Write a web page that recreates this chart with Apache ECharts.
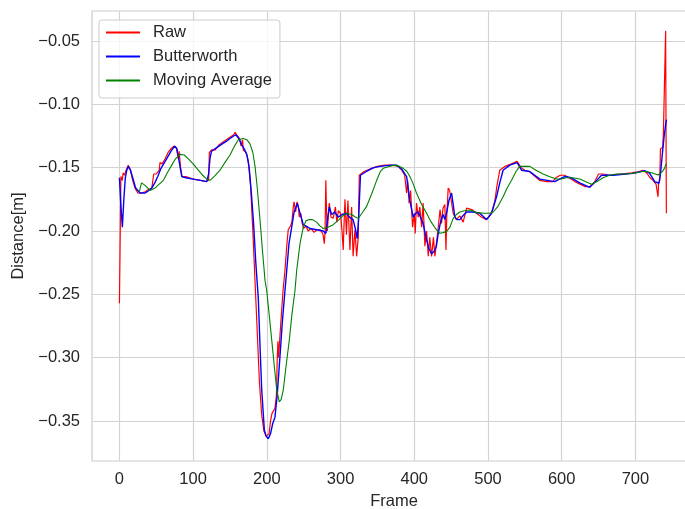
<!DOCTYPE html>
<html>
<head>
<meta charset="utf-8">
<script src="https://cdn.jsdelivr.net/npm/echarts@6/dist/echarts.min.js"></script>
<style>
  html, body { margin: 0; padding: 0; background: #fff; }
  #chart { width: 685px; height: 509px; }
</style>
</head>
<body>
<div id="chart"></div>
<script>
// values: [frame, distance]
const rawPts = [
  [0,-0.257],[2,-0.157],[4,-0.160],[5,-0.154],[7,-0.156],[9,-0.152],[12,-0.148],[15,-0.152],[18,-0.160],[21,-0.166],
  [25,-0.170],[30,-0.170],[35,-0.169],[40,-0.167],[44,-0.166],[46,-0.166],[46.5,-0.155],[50,-0.155],[54,-0.152],[55,-0.146],
  [58,-0.147],[62,-0.143],[66,-0.138],[70,-0.135],[74,-0.133],[77,-0.134],[79,-0.140],[80,-0.143],[81,-0.137],[83,-0.150],
  [85,-0.157],[90,-0.157],[100,-0.159],[110,-0.160],[118,-0.161],[121,-0.160],[122,-0.138],[125,-0.136],[130,-0.136],[135,-0.132],
  [140,-0.130],[145,-0.128],[150,-0.126],[155,-0.124],[157,-0.122],[160,-0.125],[163,-0.127],[165,-0.133],[167,-0.128],[168,-0.136],
  [172,-0.138],[175,-0.145],[178,-0.165],[181,-0.200],[184,-0.240],[187,-0.280],[190,-0.320],[193,-0.345],[196,-0.358],[199,-0.362],
  [201,-0.363],[203,-0.360],[205,-0.350],[207,-0.344],[209,-0.343],[211,-0.340],[213,-0.330],[214,-0.303],[215,-0.287],[216,-0.300],
  [217,-0.290],[219,-0.272],[222,-0.247],[224.6,-0.231],[227,-0.212],[229,-0.199],[232,-0.196],[234,-0.193],[236,-0.180],[237,-0.177],
  [239,-0.185],[241,-0.177],[243,-0.182],[244,-0.189],[246,-0.186],[248,-0.194],[250,-0.198],[253,-0.196],[256,-0.200],[260,-0.198],
  [264,-0.201],[268,-0.199],[272,-0.199],[276,-0.202],[278,-0.210],[279,-0.200],[280,-0.160],[281,-0.185],[282,-0.200],[284.7,-0.178],
  [287,-0.189],[290,-0.190],[293,-0.181],[295,-0.193],[297,-0.184],[300,-0.186],[302,-0.200],[303.6,-0.215],[305,-0.190],[306,-0.175],
  [308,-0.203],[310,-0.176],[312.7,-0.215],[315,-0.181],[317,-0.220],[319.5,-0.199],[321.8,-0.220],[324,-0.205],[325.4,-0.156],[328,-0.155],
  [332,-0.153],[340,-0.151],[350,-0.149],[360,-0.148],[370,-0.148],[378,-0.149],[383,-0.152],[387,-0.156],[389.6,-0.170],[391,-0.160],
  [393,-0.178],[395,-0.168],[397.7,-0.197],[400,-0.186],[401.3,-0.202],[403,-0.178],[405.4,-0.189],[407.6,-0.181],[410,-0.197],[412,-0.178],
  [414.4,-0.212],[416.7,-0.200],[419,-0.220],[421,-0.205],[423.5,-0.220],[426,-0.205],[428,-0.220],[430,-0.210],[432.5,-0.197],[435,-0.183],
  [437,-0.194],[439,-0.182],[441.5,-0.179],[443,-0.215],[444,-0.190],[446,-0.166],[448,-0.168],[450.6,-0.167],[452.8,-0.186],[457,-0.191],
  [461.8,-0.188],[466.3,-0.193],[471,-0.182],[478,-0.183],[484.5,-0.186],[491,-0.189],[498,-0.191],[504.8,-0.186],[509.4,-0.176],[512,-0.165],
  [516,-0.152],[523,-0.149],[532,-0.147],[539.5,-0.145],[545,-0.150],[550,-0.152],[556,-0.153],[562,-0.156],[570,-0.160],[580,-0.161],
  [588,-0.161],[592,-0.158],[598,-0.156],[604,-0.156],[610,-0.158],[618,-0.161],[625,-0.163],[632,-0.165],[638,-0.165],[645,-0.161],
  [650,-0.155],[656,-0.155],[665,-0.156],[680,-0.155],[695,-0.154],[705,-0.153],[710,-0.152],[715,-0.154],[720,-0.158],[724,-0.160],
  [728,-0.163],[730.7,-0.173],[731.5,-0.162],[733,-0.160],[734,-0.135],[737,-0.134],[738,-0.122],[740,-0.122],[741,-0.042],[742,-0.186]
];

const butterPts = [
  [0,-0.158],[2,-0.180],[4,-0.197],[6,-0.175],[8,-0.158],[10,-0.152],[12,-0.149],[15,-0.152],[18,-0.158],[22,-0.166],
  [28,-0.170],[35,-0.170],[40,-0.168],[44,-0.166],[48,-0.162],[52,-0.157],[56,-0.151],[60,-0.147],[65,-0.142],[70,-0.137],
  [75,-0.133],[78,-0.135],[81,-0.145],[84.6,-0.157],[90,-0.158],[100,-0.159],[110,-0.160],[118.5,-0.161],[121,-0.155],[123,-0.142],
  [125,-0.137],[130,-0.135],[135,-0.133],[140,-0.131],[145.6,-0.129],[150,-0.127],[155,-0.125],[158,-0.124],[162,-0.127],[166,-0.132],
  [170,-0.136],[173,-0.140],[176,-0.150],[179,-0.170],[182,-0.194],[185,-0.225],[188.4,-0.253],[191,-0.295],[193,-0.325],[196.6,-0.357],
  [199,-0.362],[202,-0.364],[205,-0.360],[208,-0.352],[211,-0.347],[214,-0.330],[217.8,-0.299],[221,-0.272],[224.6,-0.247],[227,-0.231],
  [230,-0.210],[233.7,-0.197],[237,-0.185],[241.3,-0.178],[245,-0.186],[249.4,-0.195],[258.5,-0.198],[268,-0.199],[276.5,-0.200],[280,-0.202],
  [282,-0.192],[284.7,-0.181],[288,-0.187],[292,-0.185],[296.9,-0.189],[302,-0.187],[308,-0.186],[312,-0.189],[317,-0.191],[320,-0.198],
  [322.6,-0.206],[324.5,-0.190],[327,-0.156],[335,-0.153],[345,-0.150],[353.4,-0.149],[369,-0.148],[376,-0.148],[382.8,-0.151],[389.6,-0.157],
  [394,-0.176],[398.5,-0.189],[402,-0.186],[405.4,-0.185],[409,-0.190],[412,-0.194],[416.7,-0.207],[420,-0.214],[423.5,-0.218],[427,-0.216],
  [430,-0.212],[432.5,-0.202],[436,-0.192],[439.2,-0.187],[441.5,-0.191],[444,-0.185],[447,-0.176],[450.6,-0.170],[453,-0.180],[455,-0.189],
  [458,-0.191],[461.8,-0.191],[466,-0.188],[471,-0.185],[480,-0.185],[489,-0.186],[498,-0.191],[504.8,-0.186],[508,-0.180],[511.6,-0.173],
  [516,-0.162],[520.5,-0.152],[529.6,-0.148],[539.5,-0.146],[545.5,-0.152],[556.7,-0.153],[570.3,-0.159],[590.6,-0.161],[597,-0.159],[604,-0.157],
  [613,-0.158],[624.5,-0.162],[638,-0.1655],[646,-0.161],[654,-0.156],[669.7,-0.156],[696.8,-0.1545],[712.6,-0.1524],[719.4,-0.1545],[726.2,-0.161],
  [732,-0.1623],[734,-0.155],[736.6,-0.139],[739,-0.125],[742,-0.112]
];

const movAvgPts = [
  [27,-0.169],[30,-0.162],[34.8,-0.164],[41.6,-0.168],[48.4,-0.166],[54,-0.163],[59.7,-0.160],[65,-0.154],[71,-0.148],[76,-0.143],
  [82.3,-0.1395],[88,-0.140],[93.5,-0.143],[100,-0.147],[107,-0.152],[113,-0.156],[118.5,-0.159],[123,-0.160],[130,-0.156],[136.5,-0.152],
  [143,-0.146],[150,-0.140],[156,-0.133],[161.3,-0.128],[168,-0.127],[173,-0.128],[177,-0.131],[181,-0.138],[184,-0.149],[187,-0.166],
  [190.7,-0.191],[194,-0.215],[197.5,-0.239],[199.8,-0.247],[203,-0.265],[206.6,-0.286],[210,-0.306],[213.4,-0.3255],[216.9,-0.335],[219.5,-0.333],
  [222.3,-0.3255],[226,-0.307],[230.5,-0.286],[234,-0.266],[238.2,-0.247],[240.5,-0.231],[245,-0.210],[249.4,-0.197],[253,-0.192],[257.6,-0.191],
  [262,-0.191],[267.5,-0.193],[272,-0.196],[276.5,-0.198],[283,-0.197],[290,-0.195],[298,-0.191],[303,-0.188],[308,-0.186],[315,-0.187],
  [320,-0.189],[324,-0.190],[329,-0.186],[335,-0.181],[342,-0.171],[349,-0.160],[354,-0.153],[358,-0.1505],[366,-0.149],[373.7,-0.148],
  [380,-0.149],[385,-0.1505],[390,-0.153],[394,-0.157],[398,-0.162],[403,-0.170],[410,-0.179],[416.7,-0.186],[423,-0.193],[430,-0.199],
  [434.7,-0.2018],[439,-0.2013],[443.8,-0.2005],[448.3,-0.197],[452.8,-0.190],[457,-0.187],[461.8,-0.185],[468,-0.184],[475.4,-0.1834],[484.5,-0.1855],
  [495,-0.186],[502,-0.186],[507,-0.185],[513,-0.181],[520.5,-0.173],[526,-0.166],[532,-0.160],[538,-0.153],[543,-0.149],[549,-0.149],
  [556.7,-0.149],[565,-0.152],[574.8,-0.155],[583,-0.157],[592.9,-0.159],[599,-0.159],[606.5,-0.158],[615,-0.158],[624.5,-0.159],[632,-0.161],
  [640.4,-0.163],[648,-0.161],[656,-0.158],[665,-0.156],[674,-0.155],[688,-0.155],[701.4,-0.154],[708,-0.153],[715,-0.153],[722,-0.154],
  [730.7,-0.1558],[733,-0.157],[736.6,-0.153],[739,-0.151],[742,-0.1466]
];

const xTicks = [0, 100, 200, 300, 400, 500, 600, 700];
const yTicks = [-0.35, -0.30, -0.25, -0.20, -0.15, -0.10, -0.05];

const font = 'Liberation Sans, Arial, sans-serif';
const textColor = '#262626';
const gridColor = '#d3d3d3';

const chart = echarts.init(document.getElementById('chart'));

chart.setOption({
  animation: false,
  backgroundColor: '#fff',
  textStyle: { fontFamily: font },
  grid: {
    left: 92, right: -11, top: 11, bottom: 48,
    show: true, borderColor: '#cccccc', borderWidth: 1.2,
    containLabel: false, outerBoundsMode: 'none'
  },
  legend: {
    orient: 'vertical',
    left: 99, top: 20,
    padding: [4, 8, 9, 7],
    icon: 'rect',
    itemWidth: 34, itemHeight: 2, itemGap: 7,
    backgroundColor: 'rgba(255,255,255,0.8)',
    borderColor: '#cccccc', borderWidth: 1, borderRadius: 3,
    textStyle: { fontSize: 16.5, color: textColor, fontFamily: font, padding: [0, 0, 0, 8] },
    data: ['Raw', 'Butterworth', 'Moving Average']
  },
  xAxis: {
    type: 'value',
    min: -37.2, max: 782.2,
    name: 'Frame', nameLocation: 'middle', nameGap: 25,
    nameTextStyle: { fontSize: 16.5, color: textColor, fontFamily: font },
    axisLine: { show: false },
    axisTick: { show: false, customValues: xTicks },
    axisLabel: { customValues: xTicks, fontSize: 16.5, color: textColor, margin: 10, fontFamily: font },
    splitLine: { show: true, lineStyle: { color: gridColor, width: 1.2 } }
  },
  yAxis: {
    type: 'value',
    min: -0.3816, max: -0.0263,
    name: 'Distance[m]', nameLocation: 'middle', nameGap: 57,
    nameTextStyle: { fontSize: 16.5, color: textColor, fontFamily: font },
    axisLine: { show: false },
    axisTick: { show: false, customValues: yTicks },
    axisLabel: {
      customValues: yTicks, fontSize: 16.5, color: textColor, margin: 12, fontFamily: font,
      formatter: v => (v < 0 ? '\u2212' : '') + Math.abs(v).toFixed(2)
    },
    splitLine: { show: true, lineStyle: { color: gridColor, width: 1.2 } }
  },
  series: [
    {
      name: 'Raw', type: 'line', data: rawPts, symbol: 'none',
      lineStyle: { color: '#ff0000', width: 1.2 }, itemStyle: { color: '#ff0000' }
    },
    {
      name: 'Butterworth', type: 'line', data: butterPts, symbol: 'none',
      lineStyle: { color: '#0000ff', width: 1.4 }, itemStyle: { color: '#0000ff' }
    },
    {
      name: 'Moving Average', type: 'line', data: movAvgPts, symbol: 'none',
      lineStyle: { color: '#008000', width: 1.1 }, itemStyle: { color: '#008000' }
    }
  ]
});
</script>
</body>
</html>
